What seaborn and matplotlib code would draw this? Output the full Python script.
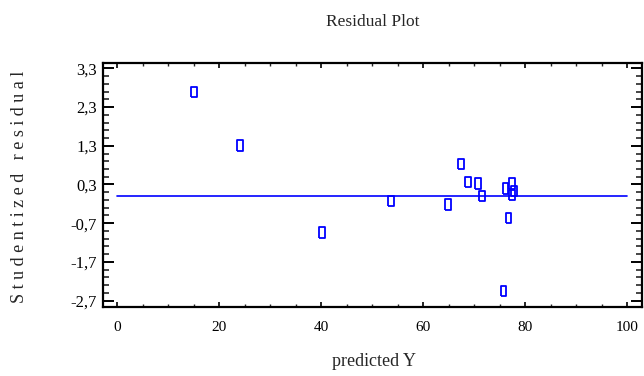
import matplotlib
matplotlib.use("Agg")
import matplotlib.pyplot as plt
from matplotlib.ticker import FixedLocator, MultipleLocator
import seaborn as sns
import pandas as pd

# Fitted values and studentized residuals
predicted_y = [14.98, 24.06, 40.2, 53.7, 64.8, 67.3, 68.8, 70.7, 71.5,
               75.7, 76.1, 76.7, 77.33, 77.33, 77.78]
stud_resid = [2.69, 1.31, -0.94, -0.13, -0.22, 0.83, 0.37, 0.33, 0.0,
              -2.455, 0.20, -0.56, 0.33, 0.03, 0.13]

# Zero reference line across the predicted range
ref_x = [0, 100]
ref_y = [0, 0]

x_ticks = [0, 20, 40, 60, 80, 100]
x_tick_labels = ["0", "20", "40", "60", "80", "100"]
y_ticks = [-2.7, -1.7, -0.7, 0.3, 1.3, 2.3, 3.3]
y_tick_labels = ["-2,7", "-1,7", "-0,7", "0,3", "1,3", "2,3", "3,3"]

sns.set_style("ticks")
plt.rcParams["font.family"] = ["Liberation Serif", "DejaVu Serif"]

df = pd.DataFrame({"predicted": predicted_y, "resid": stud_resid})

fig = plt.figure(figsize=(6.44, 3.76), dpi=100)
ax = fig.add_axes([102.7 / 644, 69 / 376, (642 - 102.7) / 644, (307 - 63) / 376])

blue = "#0000ff"
sns.lineplot(x=ref_x, y=ref_y, ax=ax, color=blue, linewidth=1.2)

rect = [(-0.28, -0.5), (0.28, -0.5), (0.28, 0.5), (-0.28, 0.5), (-0.28, -0.5)]
sns.scatterplot(data=df, x="predicted", y="resid", ax=ax, marker=rect,
                s=56, color=blue, linewidth=1.3, zorder=3)
for coll in ax.collections:
    coll.set_facecolor("none")
    coll.set_edgecolor(blue)

ax.set_xlim(-2.86, 102.86)
ax.set_ylim(-2.863, 3.437)

ax.xaxis.set_major_locator(FixedLocator(x_ticks))
ax.set_xticklabels(x_tick_labels)
ax.xaxis.set_minor_locator(MultipleLocator(5))
ax.yaxis.set_major_locator(FixedLocator(y_ticks))
ax.set_yticklabels(y_tick_labels)
ax.yaxis.set_minor_locator(MultipleLocator(0.2, offset=0.1))

ax.tick_params(axis="x", which="major", direction="in", length=3.5, width=1.2,
               top=True, bottom=True, labelsize=11, pad=10, colors="black")
ax.tick_params(axis="x", which="minor", direction="in", length=2, width=1.0,
               top=True, bottom=True)
ax.tick_params(axis="y", which="major", direction="in", length=8, width=1.4,
               left=True, right=True, labelsize=12, pad=4, colors="black")
ax.tick_params(axis="y", which="minor", direction="in", length=4.5, width=1.2,
               left=True, right=True)

for sp in ax.spines.values():
    sp.set_visible(True)
    sp.set_linewidth(1.6)
    sp.set_color("black")

ax.set_xlabel("")
ax.set_ylabel("")

fig.text(373 / 644, 1 - 22 / 376, "Residual Plot", ha="center", va="center",
         fontsize=12.5)
fig.text(374 / 644, 1 - 361 / 376, "predicted Y", ha="center", va="center",
         fontsize=13)
fig.text(20 / 644, 1 - 186.5 / 376, "S t u d e n t i z e d   r e s i d u a l",
         ha="center", va="center", rotation=90, fontsize=13)

fig.savefig("out.png", dpi=100, facecolor="white")
